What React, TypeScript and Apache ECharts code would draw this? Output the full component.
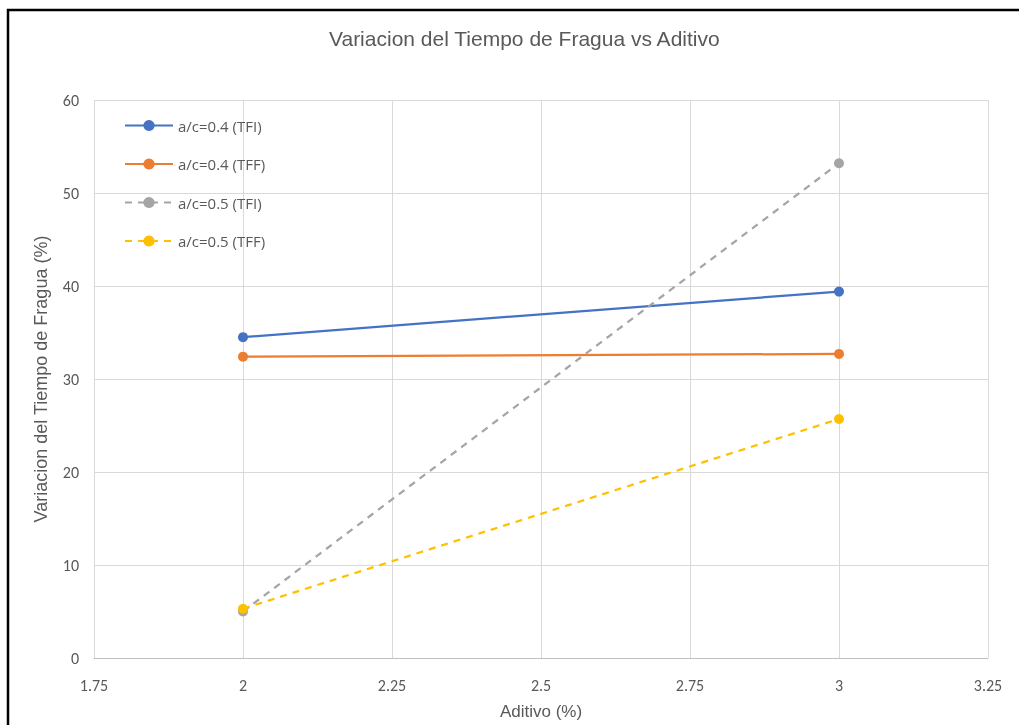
import React, { useEffect, useRef } from "react";
import * as echarts from "echarts";

const xValues = [2, 3];
const seriesNames = ["a/c=0.4 (TFI)", "a/c=0.4 (TFF)", "a/c=0.5 (TFI)", "a/c=0.5 (TFF)"];
const tfi04 = [34.5, 39.4];
const tff04 = [32.4, 32.7];
const tfi05 = [5.0, 53.2];
const tff05 = [5.3, 25.7];
const colors = ["#4472C4", "#ED7D31", "#A5A5A5", "#FFC000"];
const lineTypes = ["solid", "solid", "dashed", "dashed"];

export default function App() {
  const ref = useRef<HTMLDivElement>(null);
  useEffect(() => {
    if (!ref.current) return;
    const chart = echarts.init(ref.current, null, { renderer: "svg" });
    const all = [tfi04, tff04, tfi05, tff05];
    const arial = "'Liberation Sans', Arial, sans-serif";
    const calibri = "Carlito, Calibri, 'Liberation Sans', sans-serif";
    chart.setOption({
      animation: false,
      textStyle: { fontFamily: calibri },
      title: {
        text: "Variacion del Tiempo de Fragua vs Aditivo",
        left: 324,
        top: 23,
        textStyle: { fontSize: 21, fontWeight: "normal", color: "#595959", fontFamily: arial },
      },
      grid: { left: 94, right: 31, top: 100, bottom: 65 },
      legend: {
        orient: "vertical",
        left: 119,
        top: 113,
        itemGap: 23.5,
        itemWidth: 48,
        itemHeight: 14,
        textStyle: { fontSize: 15, color: "#595959", fontFamily: "'Open Sans', sans-serif" },
        data: seriesNames,
      },
      xAxis: {
        type: "value",
        min: 1.75,
        max: 3.25,
        interval: 0.25,
        name: "Aditivo (%)",
        nameLocation: "middle",
        nameGap: 45,
        nameTextStyle: { fontSize: 17, color: "#595959", fontFamily: arial },
        axisLine: { show: true, lineStyle: { color: "#BFBFBF", width: 1 } },
        axisTick: { show: false },
        axisLabel: { fontSize: 16, color: "#595959", margin: 19 },
        splitLine: { show: true, lineStyle: { color: "#D9D9D9", width: 1 } },
      },
      yAxis: {
        type: "value",
        min: 0,
        max: 60,
        interval: 10,
        name: "Variacion del Tiempo de Fragua (%)",
        nameLocation: "middle",
        nameGap: 44,
        nameTextStyle: { fontSize: 18, color: "#595959", fontFamily: arial },
        axisLine: { show: false },
        axisTick: { show: false },
        axisLabel: { fontSize: 16, color: "#595959", margin: 15 },
        splitLine: { show: true, lineStyle: { color: "#D9D9D9", width: 1 } },
      },
      series: seriesNames.map((name, i) => ({
        name,
        type: "line",
        data: xValues.map((x, j) => [x, all[i][j]]),
        symbol: "circle",
        symbolSize: 10,
        itemStyle: { color: colors[i] },
        lineStyle: { color: colors[i], width: 2.25, type: lineTypes[i] === "dashed" ? [7, 6] : "solid" },
        z: 2 + i,
      })),
      graphic: [
        {
          type: "rect",
          shape: { x: 8, y: 10, width: 1100, height: 800 },
          style: { fill: "none", stroke: "#000", lineWidth: 2.5 },
          silent: true,
        },
      ],
    });
    return () => chart.dispose();
  }, []);
  return <div ref={ref} style={{ position: "fixed", left: 0, top: 0, width: 1019, height: 725 }} />;
}
